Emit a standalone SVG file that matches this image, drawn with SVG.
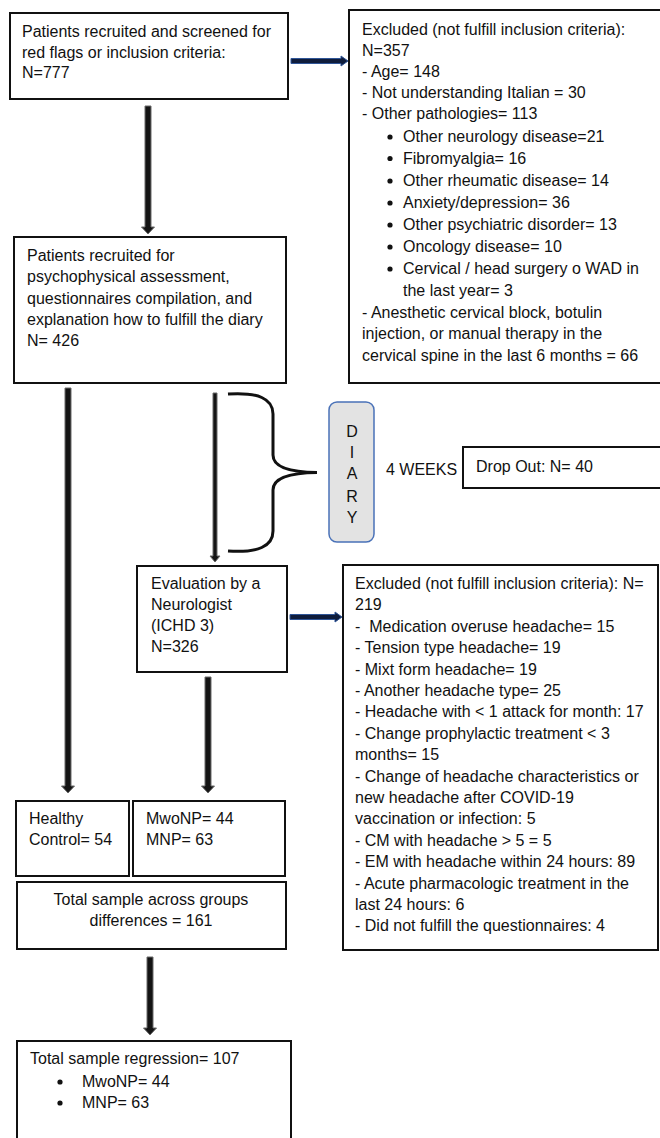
<svg xmlns="http://www.w3.org/2000/svg" width="660" height="1138" viewBox="0 0 660 1138">
<style>
text{font-family:"Liberation Sans",Arial,sans-serif;font-size:16px;fill:#111;white-space:pre}
.box{fill:#fff;stroke:#111;stroke-width:2}
.varrow{fill:#141414;stroke:#6a6a6a;stroke-width:1}
.harrow{fill:#0f1d3c;stroke:#2f5597;stroke-width:1}
.dot{fill:#111}
.mid{text-anchor:middle}
</style>
<rect width="660" height="1138" fill="#fff"/>

<g id="connectors">
  <polygon class="harrow" points="291,58.5 341,58.5 341,56 348,61 341,66 341,63.5 291,63.5"/>
  <polygon class="harrow" points="290,614.5 335,614.5 335,612 342,617 335,622 335,619.5 290,619.5"/>
  <polygon class="varrow" points="145,106 151,106 151,227 154.5,227 148,234 141.5,227 145,227"/>
  <polygon class="varrow" points="65,388 71,388 71,786 74.5,786 68,793 61.5,786 65,786"/>
  <polygon class="varrow" points="213,393 217,393 217,556 220,556 215,562 210,556 213,556"/>
  <polygon class="varrow" points="205,677 211,677 211,786 214.5,786 208,793 201.5,786 205,786"/>
  <polygon class="varrow" points="147,957 153,957 153,1028 156.5,1028 150,1035 143.5,1028 147,1028"/>
  <path d="M228,394 Q273,391 273,414 L273,455 Q273,472 317,472.5 Q273,473 273,490 L273,531 Q273,554 228,551" fill="none" stroke="#111" stroke-width="3"/>
</g>

<g id="n-screened">
  <rect class="box" x="10" y="13" width="278" height="86"/>
  <text x="22" y="37">Patients recruited and screened for</text>
  <text x="22" y="57.5">red flags or inclusion criteria:</text>
  <text x="22" y="78">N=777</text>
</g>

<g id="n-excluded1">
  <rect class="box" x="349" y="10" width="320" height="373"/>
  <text x="362" y="35">Excluded (not fulfill inclusion criteria):</text>
  <text x="362" y="55.5">N=357</text>
  <text x="362" y="76.5">- Age= 148</text>
  <text x="362" y="97.5">- Not understanding Italian = 30</text>
  <text x="362" y="118.5">- Other pathologies= 113</text>
  <circle class="dot" cx="390" cy="137" r="2.6"/>
  <text x="403" y="142">Other neurology disease=21</text>
  <circle class="dot" cx="390" cy="158.5" r="2.6"/>
  <text x="403" y="163.5">Fibromyalgia= 16</text>
  <circle class="dot" cx="390" cy="181" r="2.6"/>
  <text x="403" y="186">Other rheumatic disease= 14</text>
  <circle class="dot" cx="390" cy="203" r="2.6"/>
  <text x="403" y="208">Anxiety/depression= 36</text>
  <circle class="dot" cx="390" cy="225" r="2.6"/>
  <text x="403" y="230">Other psychiatric disorder= 13</text>
  <circle class="dot" cx="390" cy="247" r="2.6"/>
  <text x="403" y="252">Oncology disease= 10</text>
  <circle class="dot" cx="390" cy="269" r="2.6"/>
  <text x="403" y="274">Cervical / head surgery o WAD in</text>
  <text x="403" y="296">the last year= 3</text>
  <text x="362" y="318">- Anesthetic cervical block, botulin</text>
  <text x="362" y="339">injection, or manual therapy in the</text>
  <text x="362" y="361">cervical spine in the last 6 months = 66</text>
</g>

<g id="n-recruited">
  <rect class="box" x="14" y="237" width="272" height="146"/>
  <text x="27" y="261">Patients recruited for</text>
  <text x="27" y="282">psychophysical assessment,</text>
  <text x="27" y="303.5">questionnaires compilation, and</text>
  <text x="27" y="324.5">explanation how to fulfill the diary</text>
  <text x="27" y="345.5">N= 426</text>
</g>

<g id="n-diary">
  <rect x="329" y="402" width="45" height="140" rx="8" ry="8" fill="#e3e3e3" stroke="#4a72b8" stroke-width="1.5"/>
  <text class="mid" x="352" y="437">D</text>
  <text class="mid" x="352" y="458">I</text>
  <text class="mid" x="352" y="479">A</text>
  <text class="mid" x="352" y="502">R</text>
  <text class="mid" x="352" y="523">Y</text>
</g>

<g id="n-weeks">
  <text x="386" y="475">4 WEEKS</text>
</g>

<g id="n-dropout">
  <rect class="box" x="463" y="447" width="210" height="41"/>
  <text x="476" y="472">Drop Out: N= 40</text>
</g>

<g id="n-evaluation">
  <rect class="box" x="137" y="566" width="150" height="106"/>
  <text x="151" y="589">Evaluation by a</text>
  <text x="151" y="610">Neurologist</text>
  <text x="151" y="631">(ICHD 3)</text>
  <text x="151" y="652">N=326</text>
</g>

<g id="n-excluded2">
  <rect class="box" x="343" y="565" width="315" height="385"/>
  <text x="355" y="589">Excluded (not fulfill inclusion criteria): N=</text>
  <text x="355" y="610.4">219</text>
  <text x="355" y="631.8">-  Medication overuse headache= 15</text>
  <text x="355" y="653.2">- Tension type headache= 19</text>
  <text x="355" y="674.6">- Mixt form headache= 19</text>
  <text x="355" y="696">- Another headache type= 25</text>
  <text x="355" y="717.4">- Headache with &lt; 1 attack for month: 17</text>
  <text x="355" y="738.8">- Change prophylactic treatment &lt; 3</text>
  <text x="355" y="760.2">months= 15</text>
  <text x="355" y="781.6">- Change of headache characteristics or</text>
  <text x="355" y="803">new headache after COVID-19</text>
  <text x="355" y="824.4">vaccination or infection: 5</text>
  <text x="355" y="845.8">- CM with headache &gt; 5 = 5</text>
  <text x="355" y="867.2">- EM with headache within 24 hours: 89</text>
  <text x="355" y="888.6">- Acute pharmacologic treatment in the</text>
  <text x="355" y="910">last 24 hours: 6</text>
  <text x="355" y="931.4">- Did not fulfill the questionnaires: 4</text>
</g>

<g id="n-healthy">
  <rect class="box" x="16" y="801" width="113" height="75"/>
  <text x="29" y="824">Healthy</text>
  <text x="29" y="845">Control= 54</text>
</g>

<g id="n-migraine">
  <rect class="box" x="133" y="801" width="152" height="75"/>
  <text x="146" y="824">MwoNP= 44</text>
  <text x="146" y="845">MNP= 63</text>
</g>

<g id="n-total">
  <rect class="box" x="17" y="882" width="269" height="67"/>
  <text class="mid" x="151" y="905">Total sample across groups</text>
  <text class="mid" x="151" y="926">differences = 161</text>
</g>

<g id="n-regression">
  <rect class="box" x="17" y="1041" width="274" height="110"/>
  <text x="30" y="1064">Total sample regression= 107</text>
  <circle class="dot" cx="60" cy="1082" r="2.6"/>
  <text x="82" y="1087">MwoNP= 44</text>
  <circle class="dot" cx="60" cy="1103" r="2.6"/>
  <text x="82" y="1108">MNP= 63</text>
</g>
</svg>
